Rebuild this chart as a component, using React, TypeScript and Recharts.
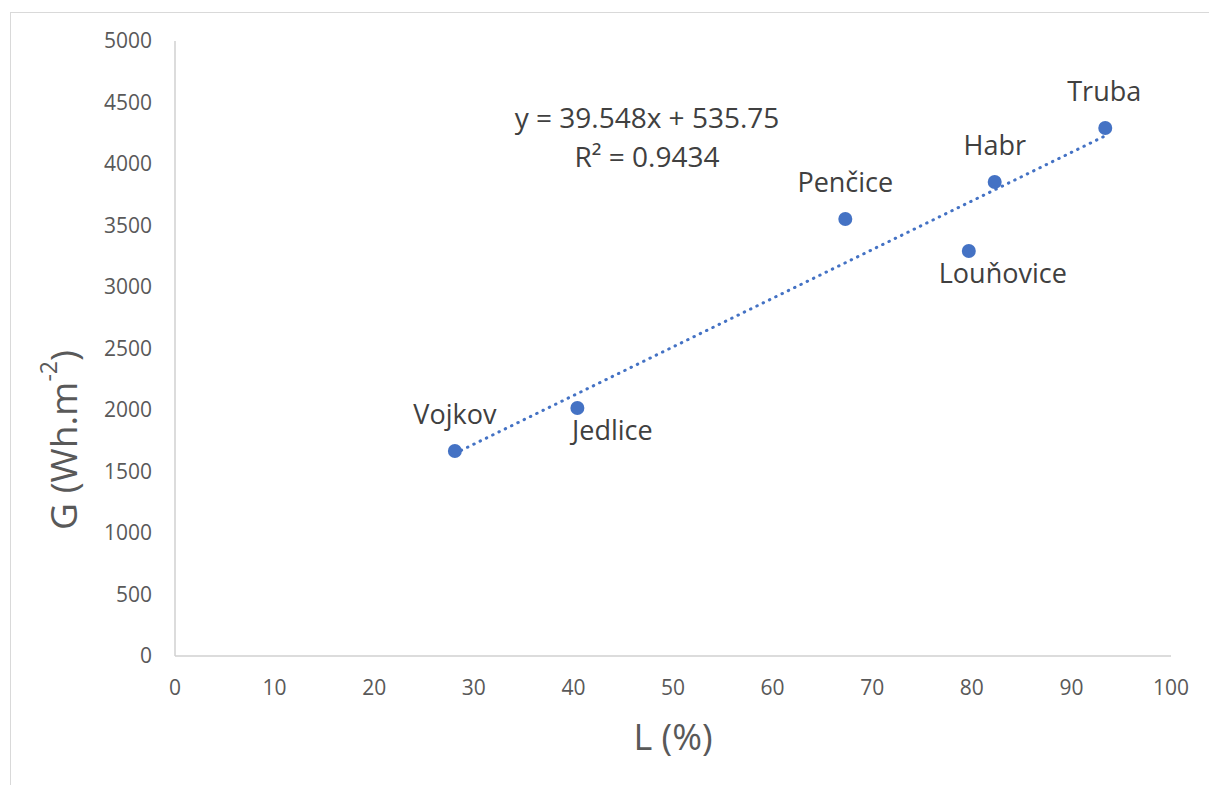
import React from "react";
import { ScatterChart, Scatter, XAxis, YAxis } from "recharts";

const sites = ["Vojkov", "Jedlice", "Penčice", "Louňovice", "Habr", "Truba"];
const lValues = [28.1, 40.4, 67.3, 79.7, 82.3, 93.4];
const gValues = [1667, 2016, 3553, 3293, 3854, 4293];

const xTicks = [0, 10, 20, 30, 40, 50, 60, 70, 80, 90, 100];
const yTicks = [0, 500, 1000, 1500, 2000, 2500, 3000, 3500, 4000, 4500, 5000];

// trendline end points (y = 39.548x + 535.75)
const trendX = [28.1, 93.4];
const trendY = [1647, 4229];

const points = sites.map((name, i) => ({ name, l: lValues[i], g: gValues[i] }));
const trend = trendX.map((l, i) => ({ l, g: trendY[i] }));

// where each data label sits relative to its marker
const labelOffset: Record<string, [number, number]> = {
  Vojkov: [0, -37],
  Jedlice: [35, 21],
  "Penčice": [0, -37],
  "Louňovice": [34, 22],
  Habr: [0, -37],
  Truba: [-1, -37],
};

const BLUE = "#4472C4";
const FONT = "'Open Sans', sans-serif";

function PointShape(props: any) {
  const { cx, cy, payload } = props;
  const [dx, dy] = labelOffset[payload.name] || [0, -36];
  return (
    <g>
      <circle cx={cx} cy={cy} r={7} fill={BLUE} />
      <text
        x={cx + dx}
        y={cy + dy}
        textAnchor="middle"
        dominantBaseline="central"
        fontSize={27}
        fill="#404040"
        fontFamily={FONT}
      >
        {payload.name}
      </text>
    </g>
  );
}

export default function App() {
  return (
    <div style={{ position: "absolute", left: 0, top: 0, width: 1209, height: 785, overflow: "hidden", background: "#fff" }}>
      <div
        style={{
          position: "absolute",
          left: 10,
          top: 12,
          width: 1230,
          height: 800,
          border: "1px solid #d9d9d9",
        }}
      />
      <ScatterChart
        width={1209}
        height={785}
        margin={{ top: 41, right: 38, bottom: 0, left: 0 }}
        style={{ position: "absolute", left: 0, top: 0, fontFamily: FONT }}
      >
        <XAxis
          type="number"
          dataKey="l"
          domain={[0, 100]}
          ticks={xTicks}
          height={129}
          tickSize={0}
          tickMargin={24}
          axisLine={{ stroke: "#d0d0d0", strokeWidth: 1.5 }}
          tickLine={false}
          tick={{ fontSize: 21, fill: "#595959" }}
          label={{ value: "L (%)", position: "insideTop", offset: 68, fontSize: 36, fill: "#595959" }}
        />
        <YAxis
          type="number"
          dataKey="g"
          domain={[0, 5000]}
          ticks={yTicks}
          width={175}
          tickSize={0}
          tickMargin={23}
          axisLine={{ stroke: "#d0d0d0", strokeWidth: 1.5 }}
          tickLine={false}
          tick={{ fontSize: 21, fill: "#595959" }}
          label={{
            content: () => (
              <text
                transform="rotate(-90, 62, 440)"
                x={62}
                y={440}
                textAnchor="middle"
                dominantBaseline="central"
                fontSize={37}
                fill="#595959"
                fontFamily={FONT}
              >
                G (Wh.m
                <tspan fontSize={23} dy={-14}>-2</tspan>
                <tspan dy={14}>)</tspan>
              </text>
            ),
          }}
        />
        <Scatter
          data={trend}
          isAnimationActive={false}
          line={{ stroke: BLUE, strokeWidth: 3, strokeDasharray: "0.5 6.5", strokeLinecap: "round" }}
          shape={() => <g />}
        />
        <Scatter data={points} isAnimationActive={false} fill={BLUE} shape={PointShape} />
      </ScatterChart>
      <div
        style={{
          position: "absolute",
          left: 447,
          top: 98,
          width: 400,
          textAlign: "center",
          fontFamily: FONT,
          fontSize: 28,
          lineHeight: "39px",
          color: "#404040",
        }}
      >
        <div>y = 39.548x + 535.75</div>
        <div>R² = 0.9434</div>
      </div>
    </div>
  );
}
